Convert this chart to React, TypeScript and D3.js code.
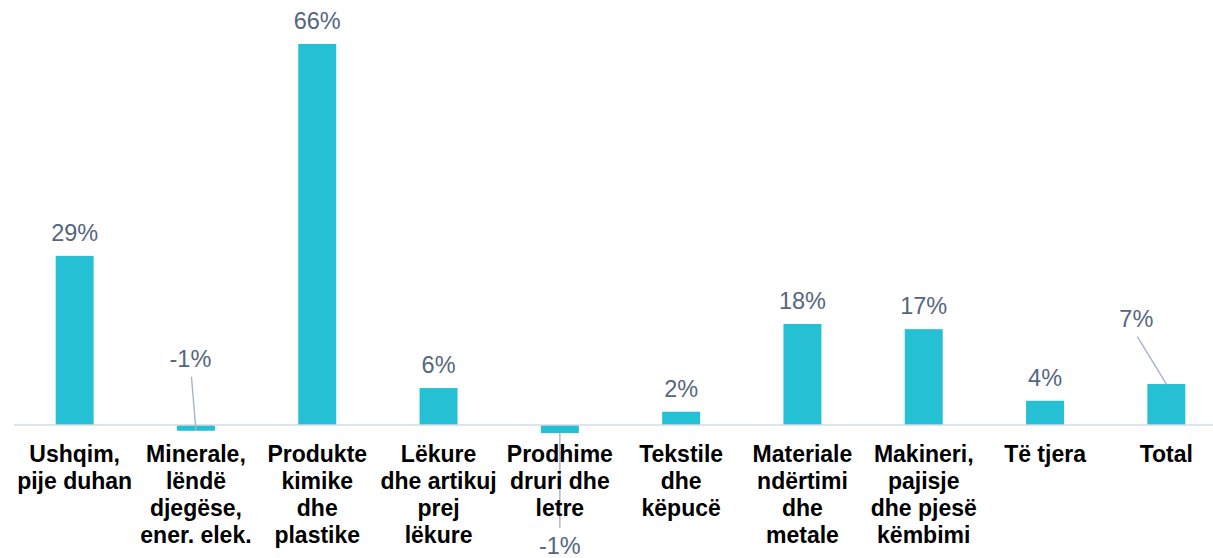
import React from "react";
import * as d3 from "d3";

const categories: string[][] = [
  ["Ushqim,", "pije duhan"],
  ["Minerale,", "lëndë", "djegëse,", "ener. elek."],
  ["Produkte", "kimike", "dhe", "plastike"],
  ["Lëkure", "dhe artikuj", "prej", "lëkure"],
  ["Prodhime", "druri dhe", "letre"],
  ["Tekstile", "dhe", "këpucë"],
  ["Materiale", "ndërtimi", "dhe", "metale"],
  ["Makineri,", "pajisje", "dhe pjesë", "këmbimi"],
  ["Të tjera"],
  ["Total"],
];

const values: number[] = [29.3, -1.0, 66.0, 6.4, -1.4, 2.3, 17.5, 16.6, 4.2, 7.1];

// label placement tweaks (styling, not data): index -> offset of label from bar end
const leaderLabels: Record<number, { dx: number; dy: number }> = {
  1: { dx: -5.5, dy: -64 },
  4: { dx: 0, dy: 121 },
  9: { dx: -30, dy: -57.5 },
};

const W = 1213;
const H = 558;
const BAR = "#26c0d4";
const LABEL = "#55667f";
const LEADER = "#a8b5c5";
const AXIS = "#d5dbe4";

export default function App() {
  const keys = categories.map((c) => c.join(" "));
  const x = d3
    .scaleBand<string>()
    .domain(keys)
    .range([14, 1227])
    .paddingInner(0.687)
    .paddingOuter(0.3435);
  const y = d3.scaleLinear().domain([0, 66]).range([425, 44]);
  const fmt = (v: number) => d3.format(".0%")(v / 100).replace("\u2212", "-");
  const bw = x.bandwidth();
  const VFS = 23.5;

  return (
    <svg
      width={W}
      height={H}
      style={{ position: "absolute", left: 0, top: 0, background: "#fff" }}
      fontFamily="'Liberation Sans', Arial, sans-serif"
    >
      {values.map((v, i) => {
        const x0 = x(keys[i])!;
        const yTop = Math.min(y(v), y(0));
        const h = Math.abs(y(v) - y(0));
        return <rect key={"b" + i} x={x0} y={yTop} width={bw} height={h} fill={BAR} />;
      })}
      <line x1={14} x2={W} y1={y(0)} y2={y(0)} stroke={AXIS} strokeWidth={1.4} />
      {values.map((v, i) => {
        const cx = x(keys[i])! + bw / 2;
        const yEnd = y(v);
        const ll = leaderLabels[i];
        if (ll) {
          const lx = cx + ll.dx;
          const ly = yEnd + ll.dy;
          const above = ll.dy < 0;
          const lineStart = above ? [lx + 1, ly + 10] : [cx, yEnd];
          const lineEnd = above ? [cx, yEnd] : [lx, ly - 26];
          return (
            <g key={"l" + i}>
              <line
                x1={lineStart[0]}
                y1={lineStart[1]}
                x2={lineEnd[0]}
                y2={lineEnd[1]}
                stroke={LEADER}
                strokeWidth={1.4}
              />
              <text x={lx} y={ly} textAnchor="middle" fontSize={VFS} fill={LABEL}>
                {fmt(v)}
              </text>
            </g>
          );
        }
        return (
          <text key={"l" + i} x={cx} y={yEnd - 15} textAnchor="middle" fontSize={VFS} fill={LABEL}>
            {fmt(v)}
          </text>
        );
      })}
      {categories.map((lines, i) => {
        const cx = x(keys[i])! + bw / 2;
        return (
          <text
            key={"c" + i}
            x={cx}
            y={462}
            textAnchor="middle"
            fontSize={23}
            fontWeight="bold"
            fill="#000"
          >
            {lines.map((t, j) => (
              <tspan key={j} x={cx} y={462 + j * 27}>
                {t}
              </tspan>
            ))}
          </text>
        );
      })}
    </svg>
  );
}
